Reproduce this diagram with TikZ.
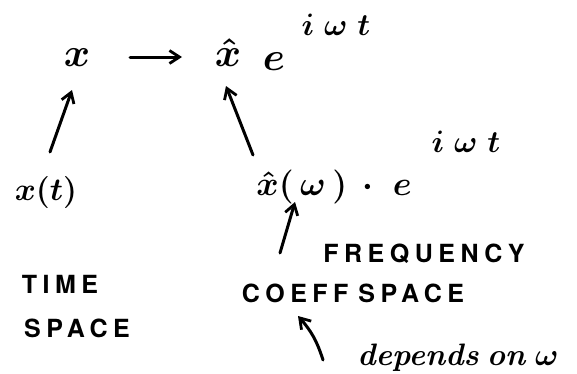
\documentclass[tikz,border=0pt]{standalone}
\usepackage{fix-cm}
\usepackage{fontspec}
\usepackage{amsmath}
\newfontfamily\capsfont[LetterSpace=22]{TeX Gyre Heros}
\usetikzlibrary{arrows.meta}
\begin{document}
\begin{tikzpicture}[x=1pt,y=-1pt,
  mth/.style={inner sep=0pt, anchor=base, font=\boldmath\fontsize{40}{44}\selectfont},
  supx/.style={inner sep=0pt, anchor=base, font=\boldmath\fontsize{31}{34}\selectfont},
  caps/.style={inner sep=0pt, anchor=base, font=\capsfont\bfseries\fontsize{25}{28}\selectfont},
  note/.style={inner sep=0pt, anchor=base, font=\boldmath\bfseries\itshape\fontsize{31}{34}\selectfont},
  arr/.style={-{Straight Barb[length=10pt,width=13pt,line width=2.8pt]}, line width=3pt, line cap=round}]
\useasboundingbox (0,0) rectangle (577,373);
\node[mth] (x) at (77,66) {$x$};
\node[mth] (xh) at (228,66) {$\hat{x}$};
\node[mth] (e) at (274,70) {$e$};
\node[supx] (s1) at (336,35) {$i\hspace{10pt}\omega\hspace{10pt}t$};
\node[mth, font=\boldmath\fontsize{32}{36}\selectfont] (xt) at (46,200) {$x(t)$};
\node[mth, font=\boldmath\fontsize{34}{38}\selectfont] (low) at (334,195) {$\hat{x}(\,\omega\,)\,\cdot\;e$};
\node[supx] (s2) at (466,152) {$i\hspace{10pt}\omega\hspace{10pt}t$};
\node[caps] (freq) at (424,262) {FREQUENCY};
\node[caps] (coeff) at (353,302) {COEFF\hspace{10pt}SPACE};
\node[caps] (time) at (60,293) {TIME};
\node[caps] (space) at (77,337) {SPACE};
\node[note] (dep) at (458,365) {depends\hspace{8pt}on\hspace{10pt}$\omega$};
\draw[arr] ([shift={(4,-48)}]xt.base) -- ([shift={(-5,24)}]x.base);
\draw[arr] ([shift={(53,-9)}]x.base) -- ([shift={(-46,-9)}]xh.base);
\draw[arr] ([shift={(-81,-40)}]low.base) -- ([shift={(-2,20)}]xh.base);
\draw[arr] ([shift={(-73,-49)}]coeff.base) -- ([shift={(-39,7)}]low.base);
\draw[arr] ([shift={(-135,-5)}]dep.base) to[bend right=12] ([shift={(-55,14)}]coeff.base);
\end{tikzpicture}
\end{document}
